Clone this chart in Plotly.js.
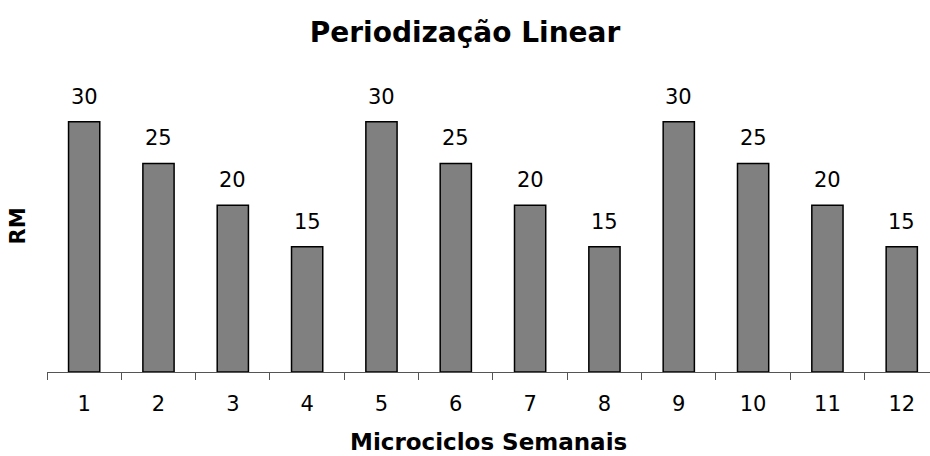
<!DOCTYPE html>
<html>
<head>
<meta charset="utf-8">
<script src="https://cdn.plot.ly/plotly-3.0.1.min.js"></script>
<style>
  html, body { margin: 0; padding: 0; background: #ffffff; }
  #chart { width: 930px; height: 456px; }
</style>
</head>
<body>
<div id="chart"></div>
<script>
// Weekly microcycles and the RM target for each one
const microciclos = ['1', '2', '3', '4', '5', '6', '7', '8', '9', '10', '11', '12'];
const rm = [30, 25, 20, 15, 30, 25, 20, 15, 30, 25, 20, 15];

const FONT = 'DejaVu Sans, Verdana, sans-serif';

const bars = {
  type: 'bar',
  x: microciclos,
  y: rm,
  marker: { color: '#808080', line: { color: '#000000', width: 1.5 } },
  hoverinfo: 'x+y'
};

// value labels above each bar (x given as category index)
const labels = rm.map((v, i) => ({
  x: i, y: v, xref: 'x', yref: 'y',
  text: String(v), showarrow: false,
  yanchor: 'bottom', yshift: 11,
  font: { family: FONT, size: 21, color: '#000000' }
}));

// x-axis caption, sitting on the bottom edge below the tick labels
labels.push({
  x: 0.5, y: -0.2877, xref: 'paper', yref: 'paper',
  text: '<b>Microciclos Semanais</b>', showarrow: false,
  xanchor: 'center', yanchor: 'bottom', borderpad: 0,
  font: { family: FONT, size: 23, color: '#000000' }
});

const layout = {
  width: 930, height: 456,
  margin: { l: 47, r: 0, t: 80, b: 84 },
  paper_bgcolor: '#ffffff', plot_bgcolor: '#ffffff',
  showlegend: false,
  bargap: 0.58,
  title: {
    text: '<b>Periodização Linear</b>',
    font: { family: FONT, size: 28, color: '#000000' },
    x: 0.5, xref: 'container', y: 0.93, yref: 'container', yanchor: 'middle'
  },
  xaxis: {
    type: 'category',
    range: [-0.5, 11.38],
    showline: true, linecolor: '#555555', linewidth: 1,
    ticks: 'outside', tickson: 'boundaries', ticklen: 7, tickcolor: '#555555',
    ticklabelstandoff: 13,
    tickfont: { family: FONT, size: 21, color: '#000000' },
    showgrid: false, zeroline: false
  },
  yaxis: {
    range: [0, 35],
    showline: false, showgrid: false, zeroline: false,
    showticklabels: false, ticks: '',
    title: {
      text: '<b>RM</b>',
      font: { family: FONT, size: 21, color: '#000000' },
      standoff: 14
    }
  },
  annotations: labels
};

Plotly.newPlot('chart', [bars], layout, { displayModeBar: false, staticPlot: true });
</script>
</body>
</html>
